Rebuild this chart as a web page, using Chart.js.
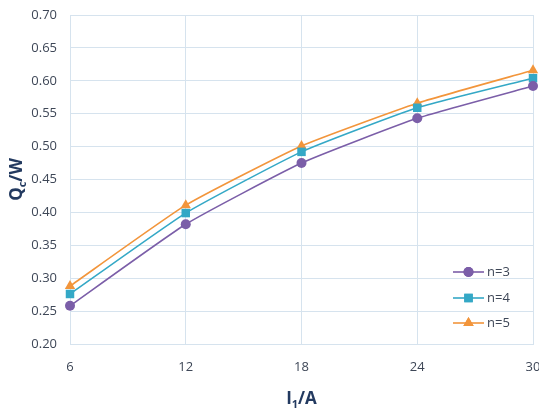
<!DOCTYPE html>
<html>
<head>
<meta charset="utf-8">
<script src="https://cdn.jsdelivr.net/npm/chart.js@4.4.1/dist/chart.umd.min.js"></script>
<style>
html,body{margin:0;padding:0;background:#fff;}
#wrap{width:539px;height:412px;}
</style>
</head>
<body>
<div id="wrap"><canvas id="c" width="539" height="412"></canvas></div>
<script>
const xValues = [6, 12, 18, 24, 30];
const seriesN3 = [0.258, 0.382, 0.475, 0.543, 0.592];
const seriesN4 = [0.276, 0.399, 0.492, 0.559, 0.604];
const seriesN5 = [0.288, 0.411, 0.501, 0.566, 0.616];
const seriesLabels = ['n=3', 'n=4', 'n=5'];
const xTitleParts = ['I', '1', '/A'];
const yTitleParts = ['Q', 'c', '/W'];

const tickColor = '#3e4757';
const titleColor = '#233a60';
const gridColor = '#d6e3ee';
const colors = ['#7b5ea8', '#34a8c6', '#f2953b'];
const styles = ['circle', 'rect', 'triangle'];
const radii = [5, 6, 6];

function toPts(arr){ return arr.map((v,i)=>({x:xValues[i], y:v})); }
const seriesAll = [seriesN3, seriesN4, seriesN5];

const datasets = seriesAll.map((s,i)=>({
  label: seriesLabels[i],
  data: toPts(s),
  borderColor: colors[i],
  backgroundColor: colors[i],
  borderWidth: 1.6,
  pointStyle: styles[i],
  pointRadius: radii[i],
  pointHoverRadius: radii[i],
  pointBorderWidth: 0,
  tension: 0.15,
  clip: false
}));

function drawParts(ctx, parts, big, small){
  let x = 0;
  parts.forEach((p, i)=>{
    const isSub = (i === 1);
    ctx.font = 'bold ' + (isSub ? small : big) + 'px "Open Sans"';
    ctx.fillText(p, x, isSub ? 4 : 0);
    x += ctx.measureText(p).width;
  });
  return x;
}
function measureParts(ctx, parts, big, small){
  let w = 0;
  parts.forEach((p,i)=>{
    ctx.font = 'bold ' + (i===1 ? small : big) + 'px "Open Sans"';
    w += ctx.measureText(p).width;
  });
  return w;
}

const extrasPlugin = {
  id: 'extras',
  afterDraw(chart){
    const ctx = chart.ctx;
    const ca = chart.chartArea;
    ctx.save();
    ctx.fillStyle = titleColor;
    ctx.textBaseline = 'alphabetic';
    ctx.textAlign = 'left';
    let w = measureParts(ctx, xTitleParts, 17, 11);
    ctx.save();
    ctx.translate((ca.left + ca.right)/2 - w/2, 404);
    drawParts(ctx, xTitleParts, 17, 11);
    ctx.restore();
    w = measureParts(ctx, yTitleParts, 17, 11);
    ctx.save();
    ctx.translate(22, (ca.top + ca.bottom)/2 + w/2);
    ctx.rotate(-Math.PI/2);
    drawParts(ctx, yTitleParts, 17, 11);
    ctx.restore();
    const rowsY = [272, 298, 323];
    chart.data.datasets.forEach((ds, i)=>{
      const y = rowsY[i];
      ctx.strokeStyle = ds.borderColor;
      ctx.lineWidth = 1.6;
      ctx.beginPath();
      ctx.moveTo(453, y); ctx.lineTo(484, y);
      ctx.stroke();
      ctx.fillStyle = ds.backgroundColor;
      ctx.beginPath();
      Chart.helpers.drawPoint(ctx, {pointStyle: ds.pointStyle, radius: ds.pointRadius, borderWidth: 0}, 468.5, y);
      ctx.fill();
      ctx.fillStyle = tickColor;
      ctx.font = '13px "Open Sans"';
      ctx.textBaseline = 'middle';
      ctx.fillText(ds.label, 487, y);
      ctx.textBaseline = 'alphabetic';
    });
    ctx.restore();
  }
};

new Chart(document.getElementById('c'), {
  type: 'line',
  data: { datasets },
  options: {
    responsive: false,
    animation: false,
    events: [],
    layout: { padding: { left: 0, right: 5, top: 15, bottom: 0 } },
    plugins: { legend: { display: false }, tooltip: { enabled: false } },
    scales: {
      x: {
        type: 'linear',
        min: 6, max: 30,
        ticks: { stepSize: 6, color: tickColor, font: { family: 'Open Sans', size: 13 }, padding: 15, maxRotation: 0 },
        grid: { color: gridColor, drawTicks: false, lineWidth: 1 },
        border: { color: gridColor },
        afterFit(s){ s.height = 68; s.paddingLeft = 0; s.paddingRight = 0; }
      },
      y: {
        min: 0.2, max: 0.7,
        ticks: { stepSize: 0.05, color: tickColor, font: { family: 'Open Sans', size: 13 }, padding: 13,
                 callback: v => Number(v).toFixed(2) },
        grid: { color: gridColor, drawTicks: false, lineWidth: 1 },
        border: { color: gridColor },
        afterFit(s){ s.width = 70; s.paddingTop = 0; s.paddingBottom = 0; }
      }
    }
  },
  plugins: [extrasPlugin]
});
</script>
</body>
</html>
